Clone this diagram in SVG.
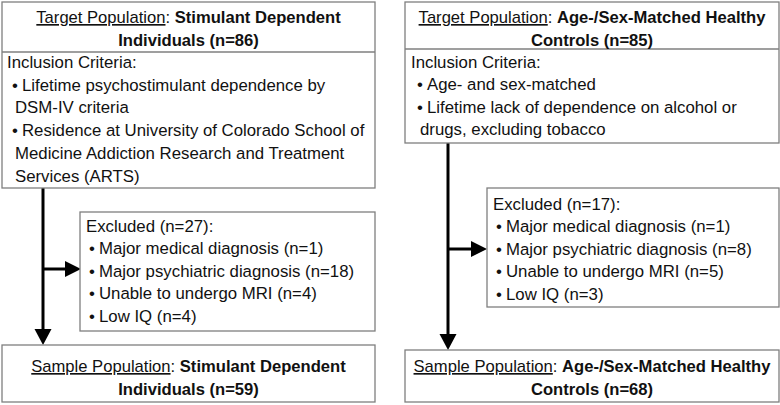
<svg xmlns="http://www.w3.org/2000/svg" width="780" height="405" viewBox="0 0 780 405">
<style>
.box{fill:#fff;stroke:#7f7f7f;stroke-width:1.3}
.div{stroke:#7f7f7f;stroke-width:1.3}
text{font-family:"Liberation Sans",Arial,sans-serif;font-size:16.8px;fill:#111}
.c{text-anchor:middle;font-size:16.6px}
.b{font-weight:bold}
.u{text-decoration:underline}
.ln{stroke:#000;stroke-width:3;fill:none}
.ah{fill:#000}
</style>
<rect width="780" height="405" fill="#fff"/>
<g id="connectors">
<line class="ln" x1="43" y1="188" x2="43" y2="330"/>
<polygon class="ah" points="34.5,329 51.5,329 43,345"/>
<line class="ln" x1="43" y1="269" x2="67" y2="269"/>
<polygon class="ah" points="65,261 65,277 81,269"/>
<line class="ln" x1="448" y1="143" x2="448" y2="335"/>
<polygon class="ah" points="439.5,334 456.5,334 448,350"/>
<line class="ln" x1="448" y1="249" x2="473" y2="249"/>
<polygon class="ah" points="471,241 471,257 487,249"/>
</g>
<g id="target-stimulant">
<rect class="box" x="2" y="2" width="373" height="186"/>
<line class="div" x1="2" y1="52" x2="375" y2="52"/>
<text class="c" x="188.5" y="23"><tspan class="u">Target Population</tspan>: <tspan class="b">Stimulant Dependent</tspan></text>
<text class="c b" x="188.5" y="46">Individuals (n=86)</text>
<text x="7" y="68">Inclusion Criteria:</text>
<text x="12" y="91">•</text>
<text x="22" y="91">Lifetime psychostimulant dependence by</text>
<text x="15" y="113">DSM-IV criteria</text>
<text x="12" y="136">•</text>
<text x="22" y="136">Residence at University of Colorado School of</text>
<text x="15" y="159">Medicine Addiction Research and Treatment</text>
<text x="15" y="182">Services (ARTS)</text>
</g>
<g id="target-controls">
<rect class="box" x="405" y="2" width="374" height="141"/>
<line class="div" x1="405" y1="49" x2="779" y2="49"/>
<text class="c" x="592" y="23"><tspan class="u">Target Population</tspan>: <tspan class="b">Age-/Sex-Matched Healthy</tspan></text>
<text class="c b" x="592" y="46">Controls (n=85)</text>
<text x="411" y="68">Inclusion Criteria:</text>
<text x="417" y="90">•</text>
<text x="427" y="90">Age- and sex-matched</text>
<text x="417" y="113">•</text>
<text x="427" y="113">Lifetime lack of dependence on alcohol or</text>
<text x="420" y="135">drugs, excluding tobacco</text>
</g>
<g id="excluded-stimulant">
<rect class="box" x="80" y="212" width="295" height="119"/>
<text x="86" y="232">Excluded (n=27):</text>
<text x="89" y="254">•</text>
<text x="99" y="254">Major medical diagnosis (n=1)</text>
<text x="89" y="277">•</text>
<text x="99" y="277">Major psychiatric diagnosis (n=18)</text>
<text x="89" y="299">•</text>
<text x="99" y="299">Unable to undergo MRI (n=4)</text>
<text x="89" y="322">•</text>
<text x="99" y="322">Low IQ (n=4)</text>
</g>
<g id="excluded-controls">
<rect class="box" x="487" y="188" width="292" height="119"/>
<text x="493" y="210">Excluded (n=17):</text>
<text x="496" y="232">•</text>
<text x="506" y="232">Major medical diagnosis (n=1)</text>
<text x="496" y="255">•</text>
<text x="506" y="255">Major psychiatric diagnosis (n=8)</text>
<text x="496" y="277">•</text>
<text x="506" y="277">Unable to undergo MRI (n=5)</text>
<text x="496" y="300">•</text>
<text x="506" y="300">Low IQ (n=3)</text>
</g>
<g id="sample-stimulant">
<rect class="box" x="2" y="345" width="373" height="57"/>
<text class="c" x="188.5" y="372"><tspan class="u">Sample Population</tspan>: <tspan class="b">Stimulant Dependent</tspan></text>
<text class="c b" x="188.5" y="395">Individuals (n=59)</text>
</g>
<g id="sample-controls">
<rect class="box" x="405" y="350" width="374" height="52"/>
<text class="c" x="592" y="372"><tspan class="u">Sample Population</tspan>: <tspan class="b">Age-/Sex-Matched Healthy</tspan></text>
<text class="c b" x="592" y="395">Controls (n=68)</text>
</g>
</svg>
